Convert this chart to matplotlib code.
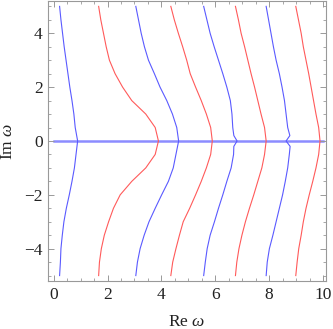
import matplotlib
matplotlib.use("Agg")
import matplotlib.pyplot as plt
from matplotlib.ticker import MultipleLocator

# Data (Im omega levels and Re omega positions)
im_levels = [-5, -4.5, -4, -3.5, -3, -2.5, -2, -1.5, -1, -0.5, 0,
             0.5, 1, 1.5, 2, 2.5, 3, 3.5, 4, 4.5, 5]
im_levels_kink = [-5, -4.5, -4, -3.5, -3, -2.5, -2, -1.5, -1, -0.5, -0.2, 0, 0.2,
                  0.5, 1, 1.5, 2, 2.5, 3, 3.5, 4, 4.5, 5]

blue_1 = [0.22, 0.25, 0.27, 0.32, 0.38, 0.47, 0.58, 0.68, 0.77, 0.83, 0.89,
          0.80, 0.75, 0.68, 0.60, 0.53, 0.46, 0.39, 0.33, 0.27, 0.22]
blue_2 = [3.05, 3.11, 3.21, 3.36, 3.54, 3.77, 4.01, 4.26, 4.44, 4.54, 4.64,
          4.57, 4.41, 4.20, 3.95, 3.74, 3.52, 3.37, 3.25, 3.15, 3.05]
blue_3 = [5.57, 5.63, 5.70, 5.81, 5.97, 6.12, 6.28, 6.43, 6.59, 6.68, 6.69, 6.81, 6.69,
          6.65, 6.62, 6.56, 6.43, 6.28, 6.12, 5.96, 5.81, 5.69, 5.57]
blue_4 = [7.89, 7.93, 8.01, 8.14, 8.26, 8.38, 8.50, 8.60, 8.69, 8.75, 8.78, 8.63, 8.77,
          8.69, 8.63, 8.57, 8.48, 8.38, 8.26, 8.16, 8.07, 7.98, 7.89]

red_1 = [1.67, 1.70, 1.77, 1.88, 2.04, 2.22, 2.47, 2.90, 3.42, 3.77, 3.89,
         3.77, 3.42, 2.90, 2.56, 2.28, 2.07, 1.95, 1.85, 1.75, 1.67]
red_2 = [4.35, 4.42, 4.54, 4.67, 4.81, 5.05, 5.27, 5.48, 5.67, 5.83, 5.89,
         5.83, 5.67, 5.48, 5.27, 5.07, 4.94, 4.79, 4.63, 4.48, 4.35]
red_3 = [6.75, 6.80, 6.88, 6.99, 7.12, 7.27, 7.43, 7.58, 7.73, 7.83, 7.89,
         7.83, 7.70, 7.58, 7.46, 7.33, 7.21, 7.09, 6.96, 6.86, 6.75]
red_4 = [8.99, 9.04, 9.10, 9.19, 9.27, 9.37, 9.49, 9.62, 9.74, 9.84, 9.89,
         9.84, 9.74, 9.65, 9.56, 9.47, 9.37, 9.27, 9.19, 9.09, 8.99]

real_axis_x = [0, 10]
real_axis_y = [0, 0]

x_ticks = [0, 2, 4, 6, 8, 10]
y_ticks = [-4, -2, 0, 2, 4]

plt.rcParams['font.family'] = ['Liberation Serif', 'DejaVu Serif']
plt.rcParams['mathtext.fontset'] = 'custom'
plt.rcParams['mathtext.it'] = 'Liberation Serif:italic'
plt.rcParams['mathtext.rm'] = 'Liberation Serif'

fig = plt.figure(figsize=(3.33, 3.29), dpi=100)
ax = fig.add_axes([0.145, 0.146, 0.833, 0.851])

BLUE = '#5a5aff'
RED = '#ff5a5a'

ax.plot(real_axis_x, real_axis_y, color='#8c8cff', lw=1.8, zorder=1)
ax.plot(blue_1, im_levels, color=BLUE, lw=0.8, zorder=2)
ax.plot(blue_2, im_levels, color=BLUE, lw=0.8, zorder=2)
ax.plot(blue_3, im_levels_kink, color=BLUE, lw=0.8, zorder=2)
ax.plot(blue_4, im_levels_kink, color=BLUE, lw=0.8, zorder=2)
for xs in (red_1, red_2, red_3, red_4):
    ax.plot(xs, im_levels, color=RED, lw=0.8, zorder=2)

ax.set_xlim(-0.2, 10.1)
ax.set_ylim(-5.2, 5.2)
ax.set_xticks(x_ticks)
ax.set_yticks(y_ticks)
ax.set_xticklabels([str(t) for t in x_ticks])
ax.set_yticklabels([str(t).replace('-', '\u2212') for t in y_ticks])
ax.xaxis.set_minor_locator(MultipleLocator(0.5))
ax.yaxis.set_minor_locator(MultipleLocator(0.5))

for s in ax.spines.values():
    s.set_color('#999999')
    s.set_linewidth(0.8)
ax.tick_params(which='both', direction='in', color='#999999', top=True, right=True,
               labelsize=12.5, labelcolor='#222222')
ax.tick_params(which='major', length=4, width=0.7, pad=4)
ax.tick_params(which='minor', length=2, width=0.6)

ax.set_xlabel(r'Re $\omega$', fontsize=12.5, labelpad=8, color='#222222')
ax.set_ylabel(r'Im $\omega$', fontsize=12.5, labelpad=6, color='#222222')

fig.savefig('out.png', dpi=100)
